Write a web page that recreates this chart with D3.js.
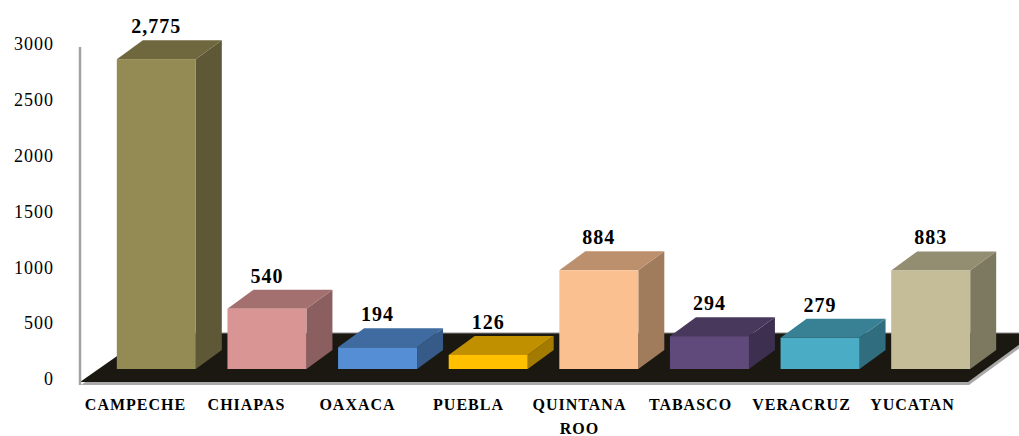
<!DOCTYPE html>
<html>
<head>
<meta charset="utf-8">
<script src="https://cdn.jsdelivr.net/npm/d3@7/dist/d3.min.js"></script>
<style>
  html, body { margin: 0; padding: 0; background: #ffffff; }
  svg { display: block; }
  text { font-family: "Liberation Serif", "Times New Roman", serif; fill: #000; }
</style>
</head>
<body>
<svg id="chart" width="1019" height="436"></svg>
<script>
const categories = ["CAMPECHE", "CHIAPAS", "OAXACA", "PUEBLA", "QUINTANA ROO", "TABASCO", "VERACRUZ", "YUCATAN"];
const values = [2775, 540, 194, 126, 884, 294, 279, 883];
const valueLabels = ["2,775", "540", "194", "126", "884", "294", "279", "883"];
const tickValues = [0, 500, 1000, 1500, 2000, 2500, 3000];
const barColors = ["#948A54", "#D99594", "#558ED5", "#FFC000", "#FAC090", "#604A7B", "#4BACC6", "#C4BD97"];

const W = 1019, H = 436;
const svg = d3.select("#chart");

// scales
const y = d3.scaleLinear().domain([0, 3000]).range([379, 44]);
const frontLift = 10;             // bar front face sits slightly in front of axis zero
const depthX = 26, depthY = 19;   // 3D depth offset
const xBar = d3.scaleBand().domain(categories).range([101, 986]).paddingInner(0.286).paddingOuter(0.143);
const xLab = d3.scaleBand().domain(categories).range([80, 968]);

// floor shadow + floor
const floorFront = 382, floorBack = 333;
const floorPts = [[80, floorFront], [968, floorFront], [1035, floorBack], [150, floorBack]];
svg.append("polygon")
  .attr("points", floorPts.map(p => [p[0] + 1, p[1] + 3].join(",")).join(" "))
  .attr("fill", "#a9a9a9");
svg.append("polygon")
  .attr("points", floorPts.map(p => p.join(",")).join(" "))
  .attr("fill", "#1b1812");
svg.append("line")
  .attr("x1", 150).attr("x2", 1035).attr("y1", floorBack).attr("y2", floorBack)
  .attr("stroke", "#8a8a8a").attr("stroke-width", 1);

// left wall line
svg.append("line")
  .attr("x1", 80).attr("x2", 80).attr("y1", 47).attr("y2", 385)
  .attr("stroke", "#a3a3a3").attr("stroke-width", 2.5);

// y axis labels
const axisG = svg.append("g")
  .attr("transform", "translate(54,0)")
  .call(d3.axisLeft(y).tickValues(tickValues).tickSize(0).tickPadding(0).tickFormat(d3.format("d")));
axisG.select(".domain").remove();
axisG.selectAll("text")
  .style("font-family", "'Liberation Serif', serif")
  .style("font-size", "18px")
  .style("letter-spacing", "1px")
  .attr("fill", "#000");

// bars
const bw = xBar.bandwidth();
const base = y(0) - frontLift;
const bars = svg.append("g").selectAll("g").data(categories).join("g");
bars.each(function (c, i) {
  const g = d3.select(this);
  const x0 = xBar(c), x1 = x0 + bw;
  const top = y(values[i]) - frontLift;
  const col = d3.color(barColors[i]);
  // side face
  g.append("polygon")
    .attr("points", [[x1, top], [x1 + depthX, top - depthY], [x1 + depthX, base - depthY], [x1, base]].map(p => p.join(",")).join(" "))
    .attr("fill", col.darker(1.25));
  // top face
  g.append("polygon")
    .attr("points", [[x0, top], [x0 + depthX, top - depthY], [x1 + depthX, top - depthY], [x1, top]].map(p => p.join(",")).join(" "))
    .attr("fill", col.darker(0.8));
  // front face
  g.append("rect")
    .attr("x", x0).attr("y", top).attr("width", bw).attr("height", base - top)
    .attr("fill", col);
});

// value labels
svg.append("g").selectAll("text").data(categories).join("text")
  .attr("x", c => xBar(c) + bw / 2)
  .attr("y", (c, i) => y(values[i]) - frontLift - depthY - 7)
  .attr("text-anchor", "middle")
  .style("font-size", "20px")
  .style("font-weight", "bold")
  .style("letter-spacing", "1px")
  .text((c, i) => valueLabels[i]);

// category labels
const catText = svg.append("g").selectAll("text").data(categories).join("text")
  .attr("x", c => xLab(c) + xLab.bandwidth() / 2)
  .attr("y", 410)
  .attr("text-anchor", "middle")
  .style("font-size", "16px")
  .style("font-weight", "bold")
  .style("letter-spacing", "1px");
catText.each(function (c) {
  const t = d3.select(this);
  c.split(" ").forEach((w, k) => {
    t.append("tspan")
      .attr("x", xLab(c) + xLab.bandwidth() / 2)
      .attr("dy", k === 0 ? 0 : 24)
      .text(w);
  });
});
</script>
</body>
</html>
